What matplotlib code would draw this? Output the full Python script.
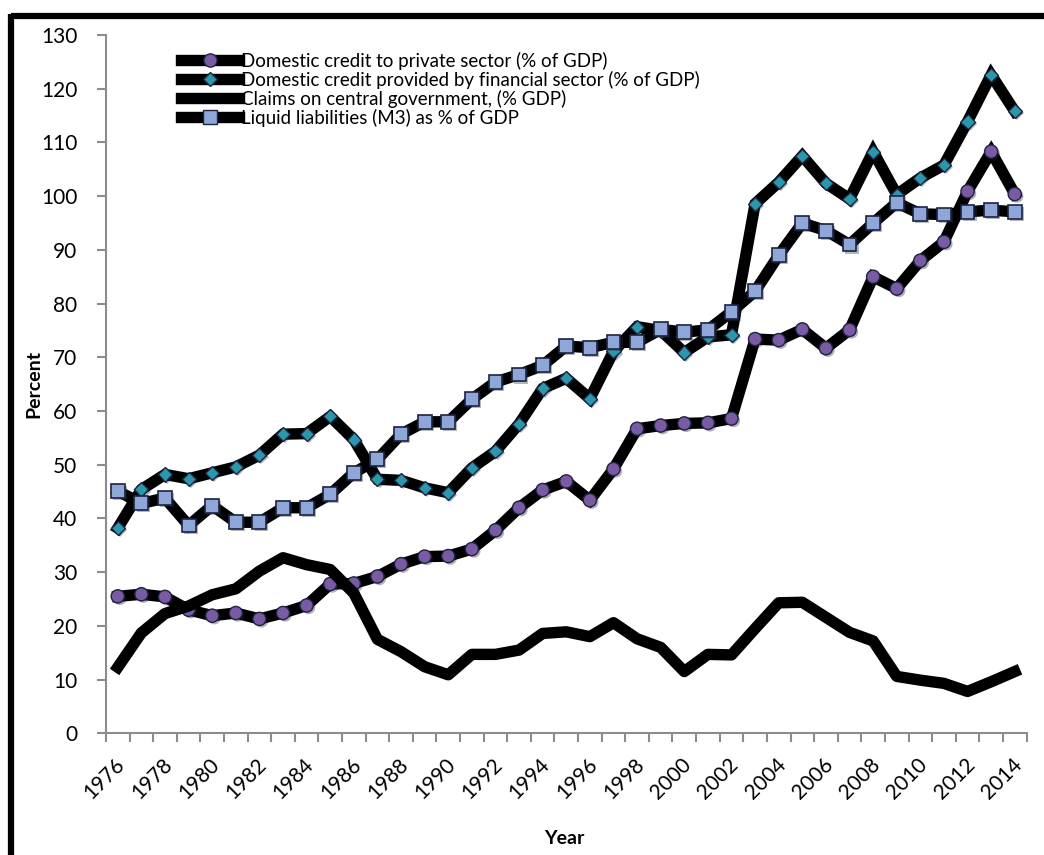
import matplotlib
matplotlib.use("Agg")
import matplotlib.pyplot as plt
import matplotlib.patheffects as pe
from matplotlib.lines import Line2D

plt.rcParams['font.family'] = ['Lato', 'DejaVu Sans']

years = list(range(1976, 2015))

# Domestic credit to private sector (% of GDP)
private_credit = [25.5, 25.9, 25.4, 23.0, 21.9, 22.4, 21.3, 22.4, 23.8, 27.8,
                  27.9, 29.2, 31.5, 32.9, 33.0, 34.3, 37.8, 42.0, 45.3, 46.9,
                  43.4, 49.2, 56.7, 57.3, 57.7, 57.8, 58.6, 73.4, 73.2, 75.2,
                  71.7, 75.1, 85.0, 82.8, 88.0, 91.5, 100.9, 108.3, 100.4]

# Domestic credit provided by financial sector (% of GDP)
fin_credit = [38.2, 45.4, 48.2, 47.4, 48.5, 49.6, 51.8, 55.7, 55.8, 59.0,
              54.7, 47.3, 47.1, 45.7, 44.8, 49.4, 52.5, 57.6, 64.2, 66.1,
              62.3, 71.1, 75.7, 75.0, 70.9, 73.8, 74.2, 98.6, 102.6, 107.5,
              102.4, 99.5, 108.3, 100.3, 103.4, 105.8, 113.9, 122.6, 115.8]

# Claims on central government (% GDP)
claims = [12.3, 18.7, 22.3, 23.7, 25.8, 26.9, 30.2, 32.7, 31.4, 30.5,
          26.1, 17.5, 15.2, 12.4, 10.9, 14.7, 14.7, 15.5, 18.6, 18.9,
          18.0, 20.6, 17.6, 16.0, 11.5, 14.7, 14.6, 19.5, 24.3, 24.4,
          21.6, 18.8, 17.2, 10.6, 9.9, 9.3, 7.8, 9.6, 11.5]

# Liquid liabilities (M3) as % of GDP
liquid = [45.1, 42.8, 43.8, 38.7, 42.4, 39.3, 39.3, 42.0, 42.0, 44.5,
          48.5, 51.0, 55.7, 58.0, 58.0, 62.2, 65.4, 66.8, 68.5, 72.1,
          71.8, 72.8, 72.8, 75.2, 74.7, 75.1, 78.5, 82.3, 89.0, 95.0,
          93.6, 91.0, 95.0, 98.8, 96.7, 96.6, 97.1, 97.4, 97.1]

labels = ['Domestic credit to private sector (% of GDP)',
          'Domestic credit provided by financial sector (% of GDP)',
          'Claims on central government, (% GDP)',
          'Liquid liabilities (M3) as % of GDP']

xtick_years = list(range(1976, 2015, 2))

fig = plt.figure(figsize=(10.44, 8.55), dpi=100)
ax = fig.add_axes([0.1015, 0.1423, 0.8818, 0.8167])

lw = 8.2
edge = '#1c2340'
shadow = [pe.SimplePatchShadow(offset=(1.5, -1.5), alpha=0.35), pe.Normal()]

ax.plot(years, private_credit, color='black', lw=lw, zorder=2, solid_joinstyle='miter')
ax.plot(years, private_credit, ls='none', marker='o', ms=9.5, mfc='#7a5aa3',
        mec=edge, mew=1.0, zorder=3, path_effects=shadow)

ax.plot(years, fin_credit, color='black', lw=lw, zorder=4, solid_joinstyle='miter')
ax.plot(years, fin_credit, ls='none', marker='D', ms=7.2, mfc='#2b97aa',
        mec=edge, mew=1.0, zorder=5, path_effects=shadow)

ax.plot(years, claims, color='black', lw=lw, zorder=6, solid_joinstyle='round')

ax.plot(years, liquid, color='black', lw=lw, zorder=7, solid_joinstyle='miter')
ax.plot(years, liquid, ls='none', marker='s', ms=10, mfc='#8ea7d8',
        mec=edge, mew=1.2, zorder=8, path_effects=shadow)

ax.set_xlim(1975.5, 2014.5)
ax.set_ylim(0, 130)
ax.set_yticks(range(0, 131, 10))
ax.set_xticks([y - 0.5 for y in years] + [2014.5])
ax.set_xticklabels([])

for s in ['top', 'right']:
    ax.spines[s].set_visible(False)
for s in ['left', 'bottom']:
    ax.spines[s].set_color('#8c8c8c')
    ax.spines[s].set_linewidth(1.5)
ax.tick_params(axis='both', colors='#8c8c8c', length=6.5, width=1.5)
ax.tick_params(axis='y', labelcolor='black', labelsize=15, pad=14)

for yr in xtick_years:
    ax.annotate(str(yr), xy=(yr, 0), xycoords=('data', 'axes fraction'),
                xytext=(4, -28), textcoords='offset pixels',
                rotation=45, ha='right', va='center', rotation_mode='anchor',
                fontsize=15)

ax.set_ylabel('Percent', fontsize=14, fontweight='bold')
ax.yaxis.set_label_coords(-0.069, 0.5)
fig.text(0.541, 0.019, 'Year', fontsize=14, fontweight='bold', ha='center', va='center')

handles = [
    Line2D([], [], color='black', lw=lw, marker='o', ms=9.5, mfc='#7a5aa3', mec=edge),
    Line2D([], [], color='black', lw=lw, marker='D', ms=7.2, mfc='#2b97aa', mec=edge),
    Line2D([], [], color='black', lw=lw),
    Line2D([], [], color='black', lw=lw, marker='s', ms=10, mfc='#8ea7d8', mec=edge),
]
leg = ax.legend(handles, labels, loc='upper left', bbox_to_anchor=(0.073, 0.987),
                frameon=False, fontsize=13.5, handlelength=3.1, handletextpad=0.1,
                labelspacing=0.05, borderaxespad=0)

# outer chart border (top and left only are visible in the crop)
fig.add_artist(Line2D([0.011, 1.0], [0.981, 0.981], transform=fig.transFigure,
                      color='black', lw=4.5, solid_capstyle='butt'))
fig.add_artist(Line2D([0.011, 0.011], [0.0, 0.984], transform=fig.transFigure,
                      color='black', lw=4.5, solid_capstyle='butt'))

fig.savefig('out.png', dpi=100)
